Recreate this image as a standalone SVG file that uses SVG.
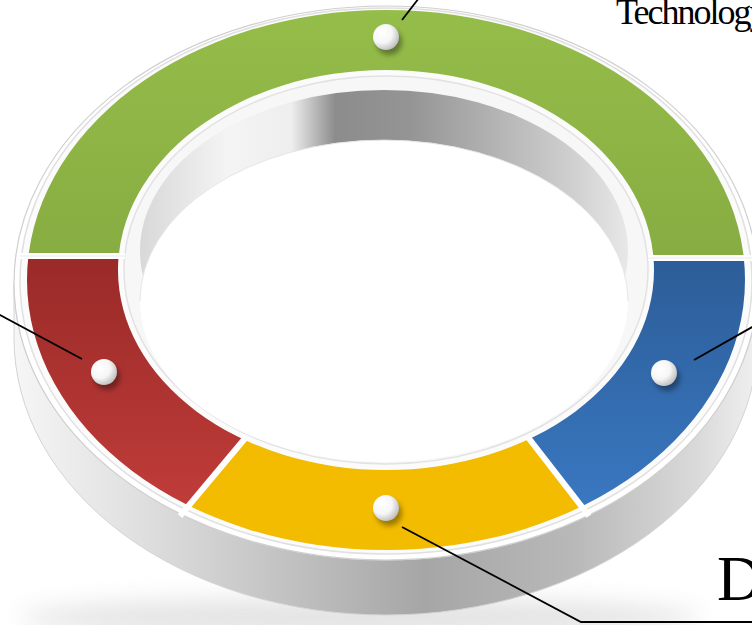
<svg xmlns="http://www.w3.org/2000/svg" width="752" height="625" viewBox="0 0 752 625">
  <defs>
    <style>
      .lead { fill: none; stroke: #000; stroke-width: 1.8; }
      .gap { stroke: #fff; stroke-width: 6; stroke-linecap: butt; }
      .label { font-family: "Liberation Serif", "Times New Roman", serif; fill: #000; }
    </style>
    <linearGradient id="wallGrad" x1="0" y1="0" x2="1" y2="0">
      <stop offset="0" stop-color="#f6f6f6"/>
      <stop offset="0.15" stop-color="#e2e2e2"/>
      <stop offset="0.35" stop-color="#c4c4c4"/>
      <stop offset="0.55" stop-color="#a6a6a6"/>
      <stop offset="0.75" stop-color="#b8b8b8"/>
      <stop offset="0.92" stop-color="#dadada"/>
      <stop offset="1" stop-color="#f0f0f0"/>
    </linearGradient>
    <linearGradient id="holeWall" gradientUnits="userSpaceOnUse" x1="140" y1="0" x2="628" y2="0">
      <stop offset="0" stop-color="#d8d8d8"/>
      <stop offset="0.18" stop-color="#f4f4f4"/>
      <stop offset="0.31" stop-color="#eeeeee"/>
      <stop offset="0.40" stop-color="#8c8c8c"/>
      <stop offset="0.55" stop-color="#949494"/>
      <stop offset="0.72" stop-color="#b2b2b2"/>
      <stop offset="0.9" stop-color="#d2d2d2"/>
      <stop offset="1" stop-color="#e8e8e8"/>
    </linearGradient>
    <linearGradient id="gGreen" x1="0" y1="0" x2="0" y2="1">
      <stop offset="0" stop-color="#95bd49"/>
      <stop offset="1" stop-color="#77993a"/>
    </linearGradient>
    <linearGradient id="gRed" gradientUnits="userSpaceOnUse" x1="0" y1="256" x2="0" y2="520">
      <stop offset="0" stop-color="#992a28"/>
      <stop offset="1" stop-color="#c23d3a"/>
    </linearGradient>
    <linearGradient id="gBlue" gradientUnits="userSpaceOnUse" x1="0" y1="258" x2="0" y2="520">
      <stop offset="0" stop-color="#2c5d98"/>
      <stop offset="1" stop-color="#3a79c3"/>
    </linearGradient>
    <linearGradient id="gYellow" x1="0" y1="0" x2="0" y2="1">
      <stop offset="0" stop-color="#f2b900"/>
      <stop offset="1" stop-color="#f2bc00"/>
    </linearGradient>
    <radialGradient id="pinGrad" cx="0.35" cy="0.35" r="0.7">
      <stop offset="0" stop-color="#ffffff"/>
      <stop offset="0.55" stop-color="#f6f6f6"/>
      <stop offset="1" stop-color="#bdbdbd"/>
    </radialGradient>
    <filter id="soft" x="-50%" y="-50%" width="200%" height="200%">
      <feGaussianBlur stdDeviation="2.5"/>
    </filter>
    <filter id="floorBlur" x="-20%" y="-100%" width="140%" height="300%">
      <feGaussianBlur stdDeviation="12"/>
    </filter>
    <!-- the coloured band: outer ellipse minus inner ellipse -->
    <path id="band" fill-rule="evenodd"
          d="M27,280 A359,270 0 1 1 745,280 A359,270 0 1 1 27,280 Z
             M118,270 A268,200 0 1 0 654,270 A268,200 0 1 0 118,270 Z"/>
    <clipPath id="cGreen"><polygon points="0,0 752,0 752,258 386,258 386,256 0,256"/></clipPath>
    <clipPath id="cRed"><polygon points="0,256 386,256 386,270 91,625 0,625"/></clipPath>
    <clipPath id="cYellow"><polygon points="386,270 681,625 91,625"/></clipPath>
    <clipPath id="cBlue"><polygon points="386,258 752,258 752,625 681,625 386,270"/></clipPath>
  </defs>

  <rect width="752" height="625" fill="#ffffff"/>

  <!-- floor shadow -->
  <ellipse cx="360" cy="618" rx="340" ry="20" fill="#b0b0b0" opacity="0.35" filter="url(#floorBlur)"/>

  <!-- ring body -->
  <g id="ring-body">
    <path d="M14,283 L14,338 A372,277 0 0 0 758,338 L758,283 A372,277 0 0 1 14,283 Z"
          fill="url(#wallGrad)" stroke="#d4d4d4" stroke-width="1"/>
    <ellipse cx="386" cy="283" rx="372" ry="277" fill="#ffffff" stroke="#cfcfcf" stroke-width="1.2"/>
    <ellipse cx="386" cy="281" rx="366" ry="273" fill="#fbfbfb" stroke="#e0e0e0" stroke-width="1.5"/>
    <!-- inner rim and hole -->
    <ellipse cx="386" cy="270" rx="262" ry="194" fill="#f7f7f7" stroke="#e2e2e2" stroke-width="1.5"/>
    <ellipse cx="384" cy="251" rx="244" ry="161" fill="url(#holeWall)"/>
    <ellipse cx="384" cy="301" rx="244" ry="161" fill="#ffffff"/>
    <path d="M140,301 A244,161 0 0 1 628,301" fill="none" stroke="#e6e6e6" stroke-width="1"/>
  </g>

  <!-- segments -->
  <g id="seg-green"><use href="#band" fill="url(#gGreen)" clip-path="url(#cGreen)"/></g>
  <g id="seg-red"><use href="#band" fill="url(#gRed)" clip-path="url(#cRed)"/></g>
  <g id="seg-yellow"><use href="#band" fill="url(#gYellow)" clip-path="url(#cYellow)"/></g>
  <g id="seg-blue"><use href="#band" fill="url(#gBlue)" clip-path="url(#cBlue)"/></g>

  <!-- separators between segments -->
  <g id="separators">
    <line class="gap" x1="20" y1="256" x2="125" y2="256"/>
    <line class="gap" x1="648" y1="258" x2="752" y2="258"/>
    <line class="gap" x1="247" y1="436" x2="180" y2="516"/>
    <line class="gap" x1="527" y1="436" x2="589" y2="516"/>
    <line x1="20" y1="256" x2="125" y2="256" stroke="#e4e4e4" stroke-width="0.8"/>
    <line x1="648" y1="258" x2="752" y2="258" stroke="#e4e4e4" stroke-width="0.8"/>
  </g>

  <!-- connectors -->
  <g id="connectors">
    <line class="lead" x1="402" y1="20" x2="419" y2="-2"/>
    <line class="lead" x1="82" y1="359" x2="-2" y2="314"/>
    <line class="lead" x1="694" y1="360" x2="754" y2="326"/>
    <polyline class="lead" points="402,527 581,622 754,622"/>
  </g>

  <!-- pins -->
  <g id="pin-green">
    <circle cx="389" cy="42" r="13" fill="#000" opacity="0.35" filter="url(#soft)"/>
    <circle cx="386" cy="37" r="13" fill="url(#pinGrad)"/>
  </g>
  <g id="pin-red">
    <circle cx="107" cy="377" r="13" fill="#000" opacity="0.35" filter="url(#soft)"/>
    <circle cx="104" cy="372" r="13" fill="url(#pinGrad)"/>
  </g>
  <g id="pin-blue">
    <circle cx="667" cy="378" r="13" fill="#000" opacity="0.35" filter="url(#soft)"/>
    <circle cx="664" cy="373" r="13" fill="url(#pinGrad)"/>
  </g>
  <g id="pin-yellow">
    <circle cx="389" cy="513" r="13" fill="#000" opacity="0.35" filter="url(#soft)"/>
    <circle cx="386" cy="508" r="13" fill="url(#pinGrad)"/>
  </g>

  <!-- labels -->
  <g id="labels">
    <text class="label" x="616" y="24" font-size="36" letter-spacing="-2">Technology</text>
    <text class="label" x="717" y="600" font-size="63">D</text>
  </g>
</svg>
